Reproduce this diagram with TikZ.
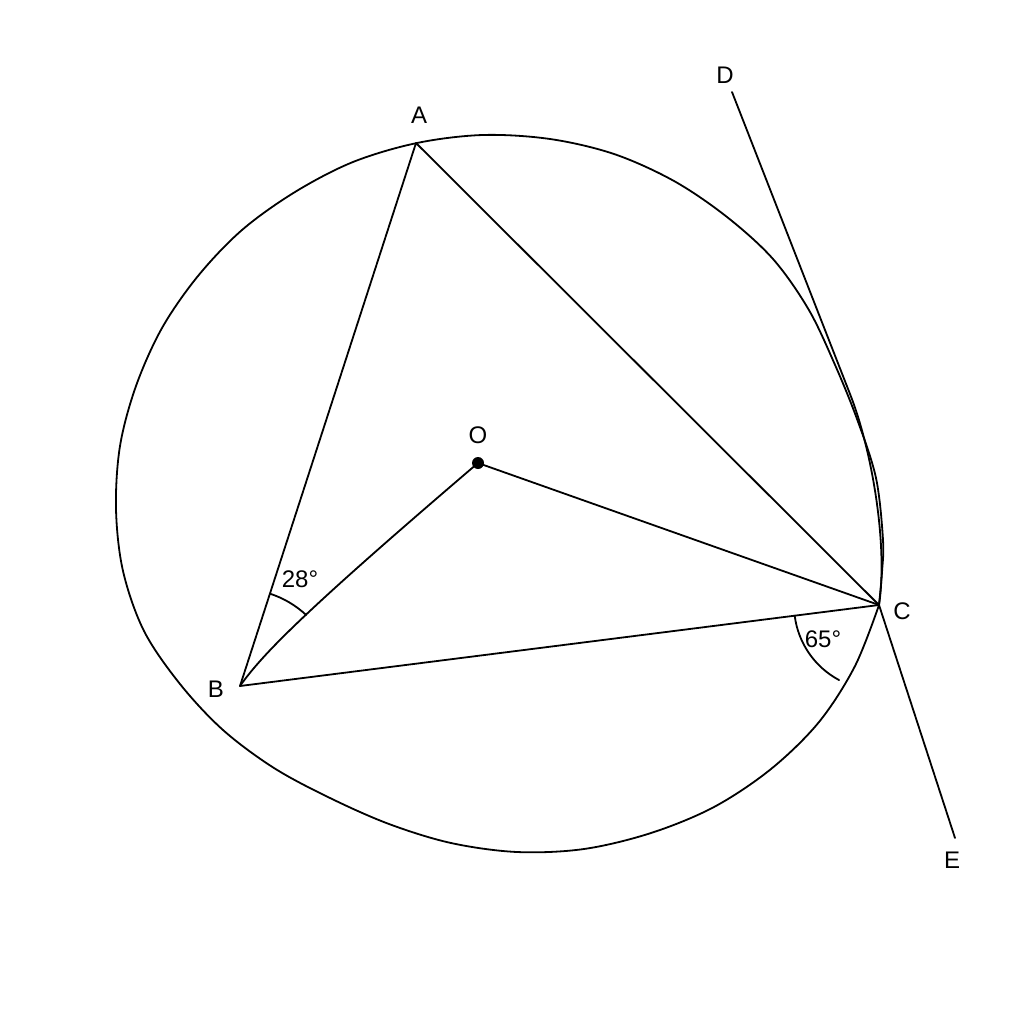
\documentclass[tikz,border=0pt]{standalone}
\usepackage{fontspec}
\setmainfont{Liberation Sans}
\begin{document}
\begin{tikzpicture}[x=1pt,y=-1pt,
  geo/.style={line width=1.8pt, line join=round, line cap=round},
  lbl/.style={font=\fontsize{24}{28}\selectfont, inner sep=0pt}]
\fill[white] (0,0) rectangle (1024,1024);
\useasboundingbox (0,0) rectangle (1024,1024);
% points
\coordinate (A) at (416,143);
\coordinate (B) at (240,686);
\coordinate (C) at (879,605);
\coordinate (O) at (478,463);
\coordinate (D) at (732,92);
\coordinate (Dm) at (850,394);
\coordinate (E) at (955,838);
\coordinate (Barc) at (270,593.7);
\coordinate (Carc) at (794.7,615.7);
% wobbly circle
\draw[geo] plot[smooth, tension=0.55] coordinates {(879,605) (855,666) (819,722) (771,769) (714,807) (651,833) (584,849) (517,852) (451,843) (389,824) (330,798) (274,768) (223,730) (180,684) (144,631) (123,571) (116,509) (120,446) (136,386) (162,328) (198,276) (242,230) (295,192) (353,162) (417,143) (483,135) (550,139) (614,154) (674,181) (727,217) (773,259) (808.5,309.3) (834.4,363.5) (857,419) (876,478) (883,540) (882,572) (879,605)};
% triangle and radii
\draw[geo] (A) -- (B) -- (C) -- cycle;
\draw[geo] (O) -- (C);
\draw[geo] (B) .. controls (262,655) and (300,615) .. (O);
% tangent line
\draw[geo] (D) -- (Dm) .. controls (872,450) and (888,545) .. (C);
\draw[geo] (C) -- (E);
% angle arcs
\draw[geo] (Barc) arc[start angle=-72, end angle=-47, radius=97];
\draw[geo] (Carc) arc[start angle=172.8, end angle=118, radius=85];
% centre dot
\fill (O) circle[radius=6];
% labels
\node[lbl] (lA) at (419,115) {A};
\node[lbl] (lB) at (216,689) {B};
\node[lbl] (lC) at (902,611) {C};
\node[lbl] (lD) at (725,75) {D};
\node[lbl] (lE) at (952,860) {E};
\node[lbl] (lO) at (478,435) {O};
\node[lbl] (l28) at (300,579) {28°};
\node[lbl] (l65) at (823,639) {65°};
\end{tikzpicture}
\end{document}
